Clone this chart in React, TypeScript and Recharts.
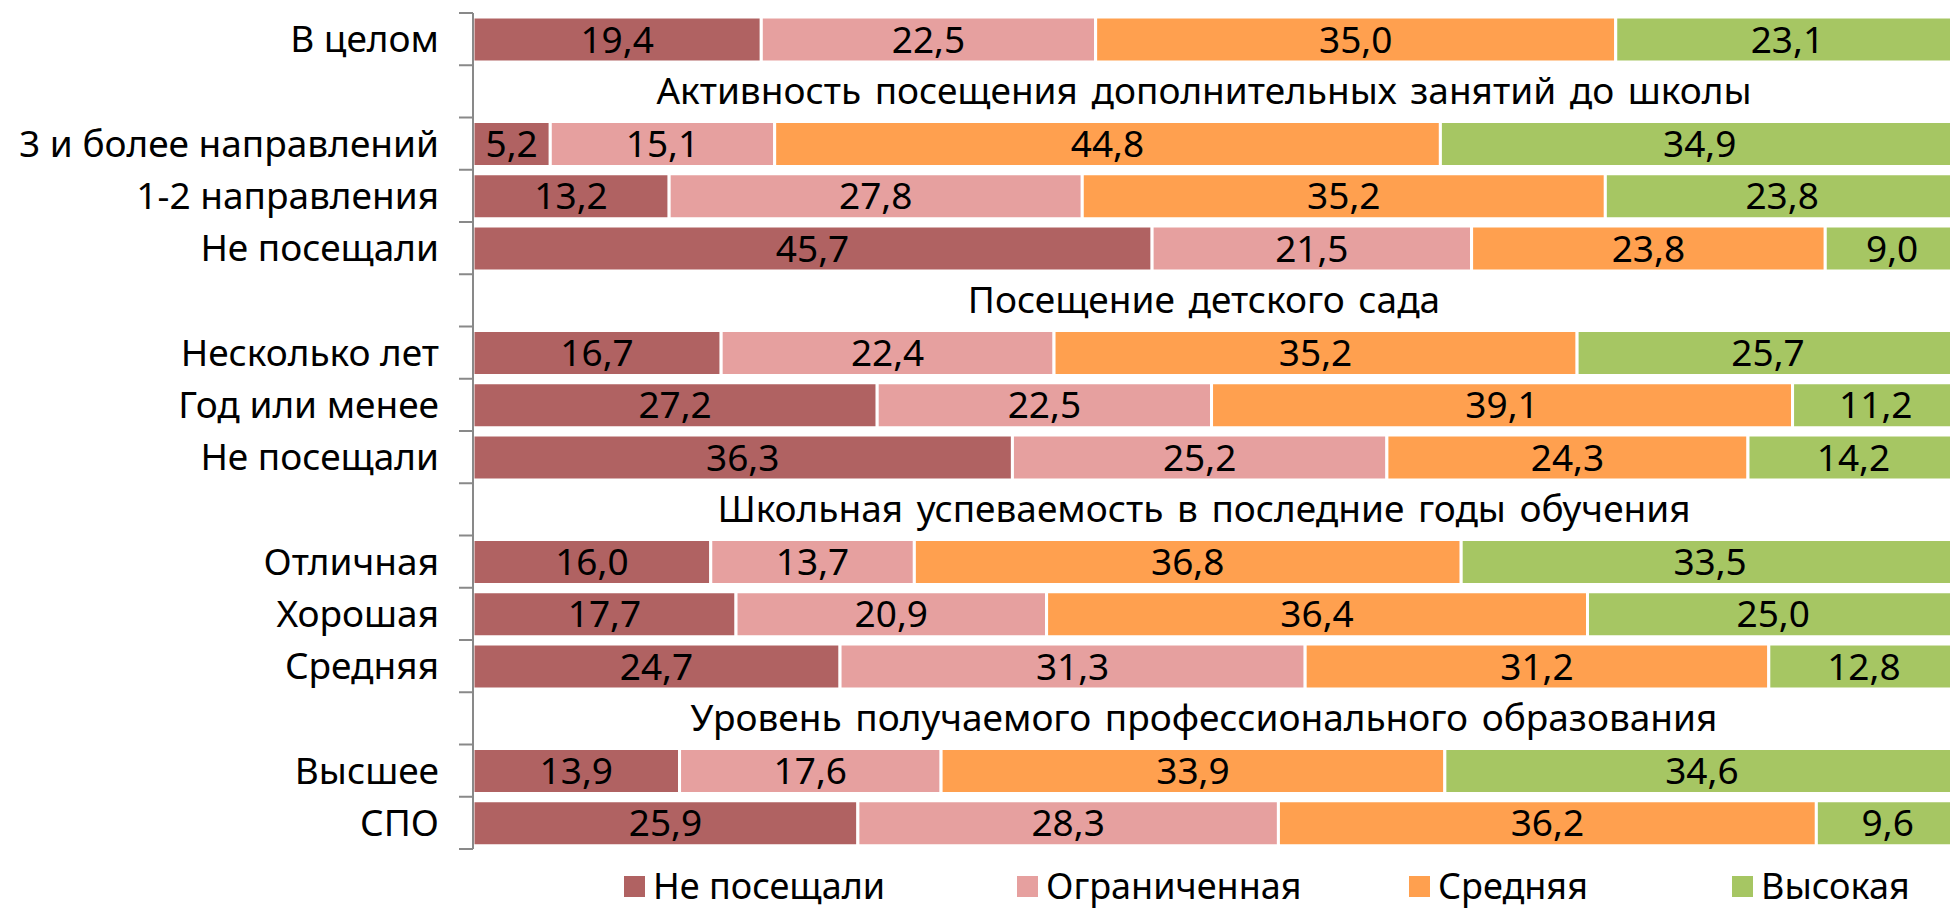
import React from 'react';
import { BarChart, Bar, XAxis, YAxis, LabelList } from 'recharts';

// Rows from top to bottom; header rows carry no values
const categories = [
  'В целом',
  'Активность посещения дополнительных занятий до школы',
  '3 и более направлений',
  '1-2 направления',
  'Не посещали',
  'Посещение детского сада',
  'Несколько лет',
  'Год или менее',
  'Не посещали',
  'Школьная успеваемость в последние годы обучения',
  'Отличная',
  'Хорошая',
  'Средняя',
  'Уровень получаемого профессионального образования',
  'Высшее',
  'СПО',
];
const headerRows = [1, 5, 9, 13];

const notAttended = [19.4, null, 5.2, 13.2, 45.7, null, 16.7, 27.2, 36.3, null, 16.0, 17.7, 24.7, null, 13.9, 25.9];
const limited = [22.5, null, 15.1, 27.8, 21.5, null, 22.4, 22.5, 25.2, null, 13.7, 20.9, 31.3, null, 17.6, 28.3];
const medium = [35.0, null, 44.8, 35.2, 23.8, null, 35.2, 39.1, 24.3, null, 36.8, 36.4, 31.2, null, 33.9, 36.2];
const high = [23.1, null, 34.9, 23.8, 9.0, null, 25.7, 11.2, 14.2, null, 33.5, 25.0, 12.8, null, 34.6, 9.6];

const seriesNames = ['Не посещали', 'Ограниченная', 'Средняя', 'Высокая'];
const colors = ['#B06262', '#E6A09F', '#FFA04F', '#A6C663'];

const data = categories.map((name, i) => ({
  key: 'r' + i,
  name,
  s0: notAttended[i],
  s1: limited[i],
  s2: medium[i],
  s3: high[i],
}));

const W = 1950;
const H = 911;
// plot runs a little past the right edge, as in the source picture
const MARGIN = { top: 13, right: -9, bottom: 62, left: 0 };
const AXIS_W = 473;
const BAND = (H - MARGIN.top - MARGIN.bottom) / categories.length;
const HEADER_X = 1204;
const FONT = '"Noto Sans", sans-serif';
const FS = 37;

const fmt = (v: any) => (v == null ? '' : Number(v).toFixed(1).replace('.', ','));

const RowTick = (props: any) => {
  const { x, y, payload } = props;
  const i = payload.index;
  const isHeader = headerRows.includes(i);
  const last = i === categories.length - 1;
  return (
    <g>
      <line x1={x - 14} x2={x} y1={y - BAND / 2} y2={y - BAND / 2} stroke="#898989" strokeWidth={2} />
      {last && <line x1={x - 14} x2={x} y1={y + BAND / 2} y2={y + BAND / 2} stroke="#898989" strokeWidth={2} />}
      <text
        x={isHeader ? HEADER_X : x - 34}
        y={y}
        dy="0.35em"
        textAnchor={isHeader ? 'middle' : 'end'}
        fill="#000"
        fontSize={FS}
        fontFamily={FONT}
        wordSpacing={isHeader ? 4 : 0}
      >
        {categories[i]}
      </text>
    </g>
  );
};

const legendLefts = [624, 1017, 1409, 1732];

const App: React.FC = () => {
  return (
    <div style={{ position: 'absolute', left: 0, top: 0, width: W, height: H, background: '#fff', fontFamily: FONT, overflow: 'hidden' }}>
      <BarChart width={W} height={H} data={data} layout="vertical" margin={MARGIN} barSize={45}>
        <XAxis type="number" domain={[0, 100]} hide />
        <YAxis
          type="category"
          dataKey="key"
          width={AXIS_W}
          axisLine={{ stroke: '#898989', strokeWidth: 2 }}
          tickLine={false}
          tickSize={0}
          tickMargin={0}
          interval={0}
          tick={<RowTick />}
        />
        {seriesNames.map((n, k) => (
          <Bar
            key={n}
            dataKey={'s' + k}
            name={n}
            stackId="a"
            fill={colors[k]}
            stroke="#fff"
            strokeWidth={3}
            isAnimationActive={false}
          >
            <LabelList
              dataKey={'s' + k}
              position="center"
              formatter={fmt}
              fill="#000"
              fontSize={FS}
              fontFamily={FONT}
            />
          </Bar>
        ))}
      </BarChart>
      {seriesNames.map((n, k) => (
        <div
          key={n}
          style={{ position: 'absolute', left: legendLefts[k], top: 866, display: 'flex', alignItems: 'center', height: 40, lineHeight: '40px' }}
        >
          <span style={{ width: 21, height: 21, background: colors[k], marginRight: 8 }} />
          <span style={{ fontSize: 36, color: '#000' }}>{n}</span>
        </div>
      ))}
    </div>
  );
};

export default App;
